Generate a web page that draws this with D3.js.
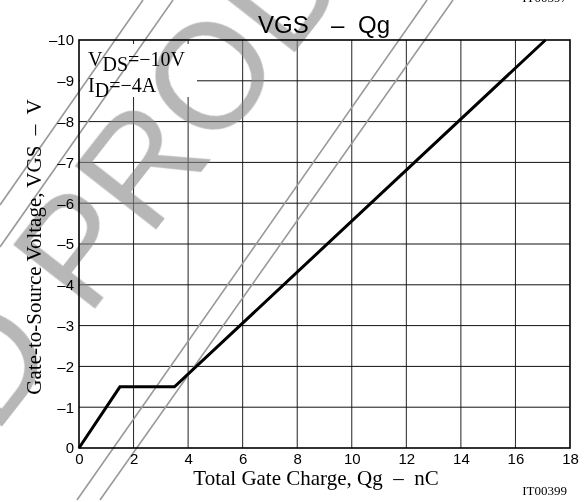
<!DOCTYPE html>
<html>
<head>
<meta charset="utf-8">
<script src="https://cdn.jsdelivr.net/npm/d3@7/dist/d3.min.js"></script>
<style>
	body { margin: 0; background: #fff; }
	svg { display: block; }
</style>
</head>
<body>
<div id="chart"></div>
<script>
// curve points
const qgValues = [0, 1.5, 3.5, 17.1];
const vgsValues = [0, -1.5, -1.5, -10];

const xTickValues = [0, 2, 4, 6, 8, 10, 12, 14, 16, 18];
const yTickValues = [0, -1, -2, -3, -4, -5, -6, -7, -8, -9, -10];

let width = 587;
let height = 502;
let margin = { top: 40, right: 17, bottom: 54, left: 79 };

let svg = d3.select('#chart')
	.append('svg')
	.attr('width', width)
	.attr('height', height);

let xScale = d3.scaleLinear()
	.domain([0, 18])
	.range([margin.left, width - margin.right]);

let yScale = d3.scaleLinear()
	.domain([0, -10])
	.range([height - margin.bottom, margin.top]);

let serif = '"Liberation Serif", "Times New Roman", serif';
let sans = '"Liberation Sans", Arial, sans-serif';

// grid
svg.append('g')
	.selectAll('line')
	.data(xTickValues.slice(1, -1))
	.enter()
	.append('line')
	.attr('x1', d => xScale(d))
	.attr('x2', d => xScale(d))
	.attr('y1', yScale(-10))
	.attr('y2', yScale(0))
	.attr('stroke', '#222')
	.attr('stroke-width', 1);

svg.append('g')
	.selectAll('line')
	.data(yTickValues.slice(1, -1))
	.enter()
	.append('line')
	.attr('x1', xScale(0))
	.attr('x2', xScale(18))
	.attr('y1', d => yScale(d))
	.attr('y2', d => yScale(d))
	.attr('stroke', '#111')
	.attr('stroke-width', 1);

// white box behind the conditions text
svg.append('rect')
	.attr('x', xScale(0) + 1)
	.attr('y', 44)
	.attr('width', 117)
	.attr('height', 53)
	.attr('fill', '#fff');

// watermark
let wm = svg.append('g').attr('fill', '#888').attr('opacity', 0.6);
wm.append('text')
	.attr('transform', 'translate(87,318) rotate(-52)')
	.attr('font-family', sans)
	.attr('font-size', 150)
	.text('PRODUCT');
wm.append('text')
	.attr('transform', 'translate(61,351) rotate(-52)')
	.attr('font-family', sans)
	.attr('font-size', 150)
	.attr('text-anchor', 'end')
	.text('DISCONTINUED');

let stripes = [[77, 500, 427, 0], [100, 500, 453, 0], [0, 205, 143, 0], [0, 247, 173, 0]];
svg.append('g')
	.selectAll('line')
	.data(stripes)
	.enter()
	.append('line')
	.attr('x1', d => d[0]).attr('y1', d => d[1])
	.attr('x2', d => d[2]).attr('y2', d => d[3])
	.attr('stroke', '#999')
	.attr('stroke-width', 1.6);

// frame
svg.append('rect')
	.attr('x', xScale(0))
	.attr('y', yScale(-10))
	.attr('width', xScale(18) - xScale(0))
	.attr('height', yScale(0) - yScale(-10))
	.attr('fill', 'none')
	.attr('stroke', '#000')
	.attr('stroke-width', 1.6);

// axes (labels only)
let xAxis = svg.append('g')
	.attr('transform', `translate(0,${yScale(0)})`)
	.call(d3.axisBottom(xScale).tickValues(xTickValues).tickSize(0).tickPadding(5).tickFormat(d3.format('d')));
let yAxis = svg.append('g')
	.attr('transform', `translate(${xScale(0)},0)`)
	.call(d3.axisLeft(yScale).tickValues(yTickValues).tickSize(0).tickPadding(5)
		.tickFormat(d => d === 0 ? '0' : '\u2013' + Math.abs(d)));
[xAxis, yAxis].forEach(a => {
	a.select('.domain').remove();
	a.selectAll('text').attr('font-family', sans).attr('font-size', 15).attr('fill', '#000');
});

// curve
let line = d3.line()
	.x(d => xScale(d[0]))
	.y(d => yScale(d[1]));

svg.append('path')
	.datum(qgValues.map((q, i) => [q, vgsValues[i]]))
	.attr('d', line)
	.attr('fill', 'none')
	.attr('stroke', '#000')
	.attr('stroke-width', 3)
	.attr('stroke-linejoin', 'miter');

// conditions
let cond1 = svg.append('text')
	.attr('x', 88).attr('y', 66)
	.attr('font-family', serif).attr('font-size', 20);
cond1.append('tspan').text('V');
cond1.append('tspan').attr('dy', 5).text('DS');
cond1.append('tspan').attr('dy', -5).text('=\u221210V');

let cond2 = svg.append('text')
	.attr('x', 88).attr('y', 92)
	.attr('font-family', serif).attr('font-size', 20);
cond2.append('tspan').text('I');
cond2.append('tspan').attr('dy', 5).text('D');
cond2.append('tspan').attr('dy', -5).text('=\u22124A');

// title
let title = svg.append('text')
	.attr('y', 33)
	.attr('font-family', sans)
	.attr('font-size', 24);
title.append('tspan').attr('x', 258).text('VGS');
title.append('tspan').attr('x', 331).text('\u2013');
title.append('tspan').attr('x', 358).text('Qg');

// axis titles
svg.append('text')
	.attr('x', 316)
	.attr('y', 485)
	.attr('text-anchor', 'middle')
	.attr('font-family', serif)
	.attr('font-size', 21)
	.attr('xml:space', 'preserve')
	.text('Total Gate Charge, Qg  \u2013  nC');

svg.append('text')
	.attr('transform', 'translate(41,247) rotate(-90)')
	.attr('text-anchor', 'middle')
	.attr('font-family', serif)
	.attr('font-size', 21)
	.attr('xml:space', 'preserve')
	.text('Gate-to-Source Voltage, VGS  \u2013  V');

svg.append('text')
	.attr('x', 567).attr('y', 495)
	.attr('text-anchor', 'end')
	.attr('font-family', serif)
	.attr('font-size', 13)
	.text('IT00399');

svg.append('text')
	.attr('x', 567).attr('y', 2)
	.attr('text-anchor', 'end')
	.attr('font-family', serif)
	.attr('font-size', 13)
	.text('IT00397');
</script>
</body>
</html>
